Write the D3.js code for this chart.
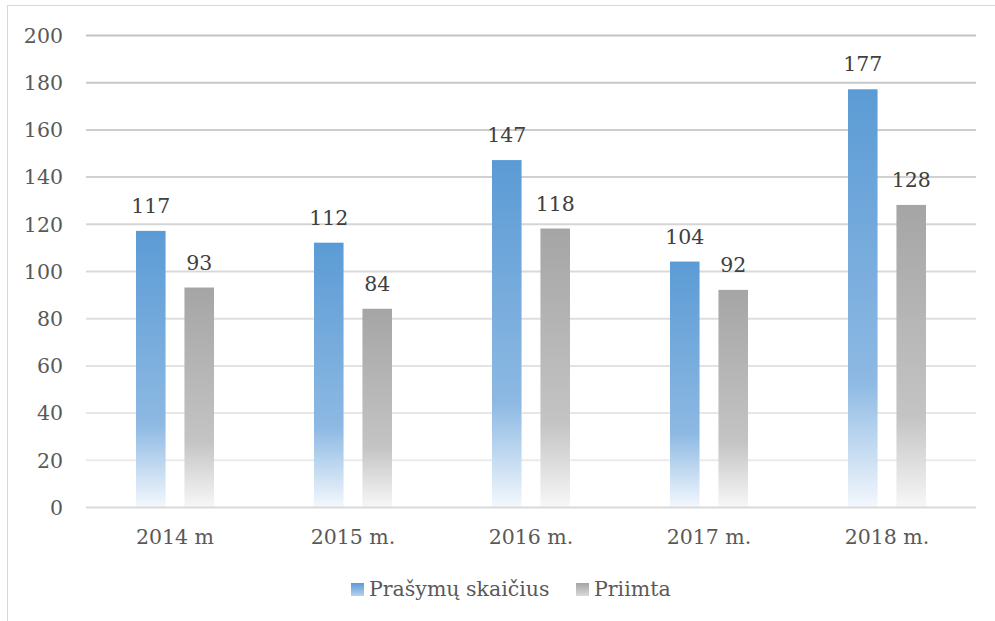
<!DOCTYPE html>
<html>
<head>
<meta charset="utf-8">
<script src="https://cdn.jsdelivr.net/npm/d3@7"></script>
<style>
  body { margin: 0; background: #fff; }
  text { font-family: "DejaVu Serif", serif; fill: #595959; }
</style>
</head>
<body>
<div id="chart"></div>
<script>
// categories and values
var years = ["2014 m", "2015 m.", "2016 m.", "2017 m.", "2018 m."];
var prasymu = [117, 112, 147, 104, 177];
var priimta = [93, 84, 118, 92, 128];
var seriesNames = ["Prašymų skaičius", "Priimta"];
var yTicks = [0, 20, 40, 60, 80, 100, 120, 140, 160, 180, 200];

var width = 995,
    height = 621,
    fontSize = 20.5;

var svg = d3.select("#chart")
    .append("svg")
    .attr("width", width)
    .attr("height", height);

var defs = svg.append("defs");

function barGradient(id, top, mid, bottom) {
    var g = defs.append("linearGradient")
        .attr("id", id)
        .attr("x1", 0).attr("y1", 0)
        .attr("x2", 0).attr("y2", 1);
    g.append("stop").attr("offset", "0%").attr("stop-color", top);
    g.append("stop").attr("offset", "70%").attr("stop-color", mid);
    g.append("stop").attr("offset", "100%").attr("stop-color", bottom);
}
barGradient("gradBlue", "#5b9bd5", "#8db9e3", "#f3f8fd");
barGradient("gradGray", "#a5a5a5", "#c4c4c4", "#f7f7f7");

// outer frame (runs off the right and bottom edge)
svg.append("rect")
    .attr("x", 7.5)
    .attr("y", 5.5)
    .attr("width", 1100)
    .attr("height", 700)
    .attr("fill", "none")
    .attr("stroke", "#d9d9d9");

var x = d3.scaleBand()
    .domain(years)
    .range([86, 976]);

var x1 = d3.scaleBand()
    .domain(seriesNames)
    .range([50, x.bandwidth() - 50])
    .paddingInner(0.39);

var y = d3.scaleLinear()
    .domain([0, 200])
    .range([507, 35]);

// gridline gradient, darker at the top
var gg = defs.append("linearGradient")
    .attr("id", "gradGrid")
    .attr("gradientUnits", "userSpaceOnUse")
    .attr("x1", 0).attr("y1", y(200))
    .attr("x2", 0).attr("y2", y(0));
gg.append("stop").attr("offset", "0%").attr("stop-color", "#c4c4c4");
gg.append("stop").attr("offset", "100%").attr("stop-color", "#efefef");

svg.append("g")
    .selectAll("line")
    .data(yTicks.filter(function (d) { return d > 0; }))
    .enter().append("line")
    .attr("x1", 86)
    .attr("x2", 976)
    .attr("y1", function (d) { return y(d) + 0.5; })
    .attr("y2", function (d) { return y(d) + 0.5 + 0.01; })
    .attr("stroke", "url(#gradGrid)")
    .attr("stroke-width", 2);

var yAxis = svg.append("g")
    .attr("transform", "translate(63,0)")
    .call(d3.axisLeft(y).tickValues(yTicks).tickSize(0).tickPadding(0));
yAxis.select(".domain").remove();
yAxis.selectAll("text")
    .attr("font-size", fontSize)
    .attr("font-family", "DejaVu Serif")
    .attr("fill", "#595959")
    .attr("dy", "0.36em");

var groups = svg.append("g")
    .selectAll("g")
    .data(years)
    .enter().append("g")
    .attr("transform", function (d) { return "translate(" + x(d) + ",0)"; });

var colors = ["url(#gradBlue)", "url(#gradGray)"];

groups.selectAll("rect")
    .data(function (d, i) {
        return [{ s: seriesNames[0], v: prasymu[i], c: colors[0] },
                { s: seriesNames[1], v: priimta[i], c: colors[1] }];
    })
    .enter().append("rect")
    .attr("x", function (d) { return x1(d.s); })
    .attr("y", function (d) { return y(d.v); })
    .attr("width", x1.bandwidth())
    .attr("height", function (d) { return y(0) - y(d.v); })
    .attr("fill", function (d) { return d.c; });

groups.selectAll("text.val")
    .data(function (d, i) {
        return [{ s: seriesNames[0], v: prasymu[i] },
                { s: seriesNames[1], v: priimta[i] }];
    })
    .enter().append("text")
    .attr("class", "val")
    .attr("x", function (d) { return x1(d.s) + x1.bandwidth() / 2; })
    .attr("y", function (d) { return y(d.v) - 18; })
    .attr("text-anchor", "middle")
    .attr("font-size", fontSize)
    .style("fill", "#404040")
    .text(function (d) { return d.v; });

// x axis line
svg.append("line")
    .attr("x1", 86)
    .attr("x2", 976)
    .attr("y1", y(0) + 0.5)
    .attr("y2", y(0) + 0.5)
    .attr("stroke", "#d9d9d9")
    .attr("stroke-width", 2);

var xAxis = svg.append("g")
    .attr("transform", "translate(0," + (y(0)) + ")")
    .call(d3.axisBottom(x).tickSize(0).tickPadding(0));
xAxis.select(".domain").remove();
xAxis.selectAll("text")
    .attr("font-size", fontSize)
    .attr("font-family", "DejaVu Serif")
    .attr("fill", "#595959")
    .attr("dy", "37px");

// legend
var lb = defs.append("linearGradient").attr("id", "legBlue")
    .attr("x1", 0).attr("y1", 0).attr("x2", 0).attr("y2", 1);
lb.append("stop").attr("offset", "0%").attr("stop-color", "#5b9bd5");
lb.append("stop").attr("offset", "100%").attr("stop-color", "#b5d2ee");
var lg = defs.append("linearGradient").attr("id", "legGray")
    .attr("x1", 0).attr("y1", 0).attr("x2", 0).attr("y2", 1);
lg.append("stop").attr("offset", "0%").attr("stop-color", "#a5a5a5");
lg.append("stop").attr("offset", "100%").attr("stop-color", "#d9d9d9");

var legend = svg.append("g");
var legendX = [351, 576];
var legendFill = ["url(#legBlue)", "url(#legGray)"];
seriesNames.forEach(function (name, i) {
    legend.append("rect")
        .attr("x", legendX[i])
        .attr("y", 583)
        .attr("width", 13)
        .attr("height", 13)
        .attr("fill", legendFill[i]);
    legend.append("text")
        .attr("x", legendX[i] + 18)
        .attr("y", 596)
        .attr("font-size", fontSize)
        .text(name);
});
</script>
</body>
</html>
